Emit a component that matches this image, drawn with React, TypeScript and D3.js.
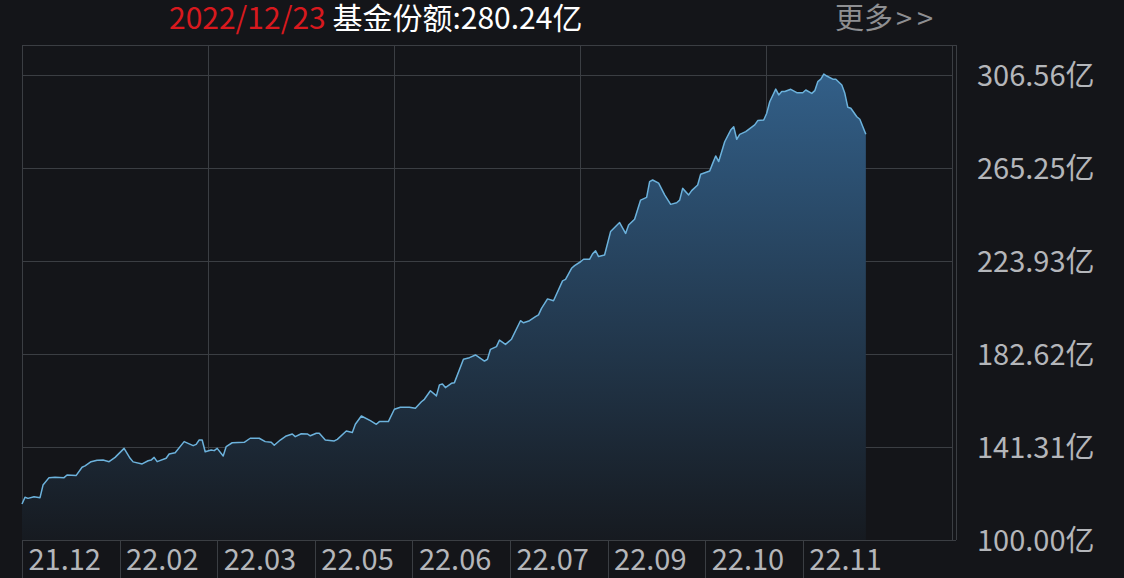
import React from "react";
import * as d3 from "d3";

const W = 1124;
const H = 578;

// trading-day index and fund share (亿)
const days = [0,1,2,4,6,7,9,11,14,15,18,20,21,23,25,27,29,31,34,36,37,40,42,43,44,45,48,49,51,54,57,58,59,60,61,63,64,65,67,68,70,74,76,79,81,83,84,86,88,90,91,93,95,96,98,99,101,104,105,108,110,111,113,116,118,119,122,124,126,129,131,133,134,136,138,139,140,141,143,144,147,149,151,154,155,156,158,159,161,163,166,167,169,171,172,173,175,177,180,181,183,184,186,187,189,190,191,192,194,196,199,201,202,204,206,208,209,210,212,214,216,218,219,220,222,223,225,226,229,230,231,232,234,236,237,238,239,241,244,245,247,248,249,251,252,253,254,256,258,260,261,263,264,265,266,267,268,270,271,273,274,275,276,278,279,281];
const shares = [116.0,119.0,118.5,119.2,118.8,124.4,127.7,127.9,127.7,128.9,128.6,132.3,132.9,134.8,135.4,135.5,134.8,136.7,140.7,136.3,134.7,133.8,135.2,135.5,136.7,134.8,136.3,138.2,138.8,143.7,141.9,142.5,144.4,144.4,139.2,140.0,139.7,140.7,137.3,141.5,143.2,143.4,145.2,145.2,143.7,143.4,142.1,144.4,146.2,147.1,145.9,147.2,147.1,146.3,147.4,147.4,144.4,144.0,144.7,148.4,147.8,151.4,155.1,153.0,151.4,152.6,152.6,158.1,159.0,159.0,158.5,161.4,162.5,166.3,164.0,168.9,169.3,167.7,169.6,169.9,180.3,181.0,182.2,179.5,180.3,184.7,185.9,188.8,186.9,189.2,197.4,196.5,197.4,199.2,200.0,202.9,207.1,206.3,215.1,215.8,220.7,221.9,223.6,224.7,224.7,227.1,228.5,225.9,226.6,237.0,241.0,236.2,239.9,242.5,251.0,252.2,259.2,259.9,258.5,253.3,249.1,249.8,251.0,256.2,253.3,255.2,257.7,262.5,263.9,267.3,270.6,268.1,276.9,282.1,283.6,278.0,280.2,281.4,284.4,286.3,286.6,289.6,294.7,300.3,297.7,299.2,299.2,300.2,298.7,298.7,299.9,298.4,299.6,303.6,304.7,307.0,306.1,304.7,304.7,302.1,298.4,292.2,291.8,288.0,286.9,280.24];

const yTicks = [100.0, 141.31, 182.62, 223.93, 265.25, 306.56];
const xLabels = ["21.12","22.02","22.03","22.05","22.06","22.07","22.09","22.10","22.11"];
const headDate = "2022/12/23";
const headText = " 基金份额:280.24亿";
const moreCJK = "更多";
const moreArrow = ">>";

const FONT = "'Noto Sans CJK SC', 'Noto Sans', sans-serif";

export default function App() {
  const left = 22, right = 952, top = 45, bottom = 540;
  const x = d3.scaleLinear().domain([0, 310]).range([left, left + 310 * 3.003]);
  const y = d3.scaleLinear().domain([100, 306.56]).range([540, 75]);
  const data = days.map((d, i) => ({ d, v: shares[i] }));
  const line = d3.line<any>().x(p => x(p.d)).y(p => y(p.v));
  const area = d3.area<any>().x(p => x(p.d)).y0(y(100)).y1(p => y(p.v));
  const vGrid = d3.range(0, 6).map(i => left + (i * (right - left)) / 5);
  const band = d3.scaleBand().domain(xLabels).range([left, left + 97.6 * xLabels.length]);
  const grid = "#3b3e43";

  return (
    <div style={{ position: "fixed", left: 0, top: 0 }}>
      <svg width={W} height={H} style={{ display: "block", background: "#141519" }}>
        <defs>
          <linearGradient id="ag" gradientUnits="userSpaceOnUse" x1="0" y1="60" x2="0" y2="540">
            <stop offset="0" stopColor="#33618b" />
            <stop offset="1" stopColor="#161a20" />
          </linearGradient>
        </defs>
        <rect width={W} height={H} fill="#141519" />
        {/* grid */}
        {yTicks.map(t => (
          <line key={"h" + t} x1={left} x2={right} y1={Math.round(y(t)) + 0.5} y2={Math.round(y(t)) + 0.5} stroke={grid} />
        ))}
        <line x1={left} x2={right + 4} y1={top + 0.5} y2={top + 0.5} stroke={grid} />
        {vGrid.map((g, i) => (
          <line key={"v" + i} x1={Math.round(g) + 0.5} x2={Math.round(g) + 0.5} y1={top} y2={i === 0 ? H : bottom} stroke={grid} />
        ))}
        <line x1={right + 4.5} x2={right + 4.5} y1={top} y2={bottom} stroke={grid} />
        <line x1={left} x2={right + 4} y1={bottom + 0.5} y2={bottom + 0.5} stroke={grid} />
        {/* area + line */}
        <path d={area(data) || ""} fill="url(#ag)" />
        <path d={line(data) || ""} fill="none" stroke="#6cb2dc" strokeWidth={1.5} strokeLinejoin="round" />
        {/* y labels */}
        {yTicks.map(t => (
          <text key={"yl" + t} x={977} y={y(t) + 11} fill="#b4b6ba" fontSize={29} fontFamily={FONT}>
            {t.toFixed(2) + "亿"}
          </text>
        ))}
        {/* x labels */}
        {xLabels.map(l => (
          <g key={l}>
            <line x1={Math.round(band(l)!) + 0.5} x2={Math.round(band(l)!) + 0.5} y1={bottom} y2={H} stroke={grid} />
            <text x={band(l)! + 6.5} y={570} fill="#b4b6ba" fontSize={29} fontFamily={FONT}>{l}</text>
          </g>
        ))}
        {/* header */}
        <text x={169} y={29} fontSize={30} fontFamily={FONT}>
          <tspan fill="#d8191e">{headDate}</tspan>
          <tspan fill="#ffffff">{headText}</tspan>
        </text>
        <text x={835} y={29} fontSize={29} fill="#8e8f92" fontFamily={FONT}>
          <tspan>{moreCJK}</tspan>
          <tspan dx={3} letterSpacing={5}>{moreArrow}</tspan>
        </text>
      </svg>
    </div>
  );
}
